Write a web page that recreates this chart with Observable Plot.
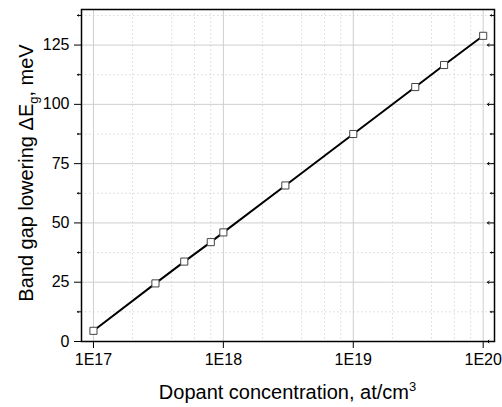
<!DOCTYPE html>
<html>
<head>
<meta charset="utf-8">
<script src="https://cdn.jsdelivr.net/npm/d3@7"></script>
<script src="https://cdn.jsdelivr.net/npm/@observablehq/plot@0.6"></script>
<style>
  html, body { margin: 0; padding: 0; background: #fff; }
  #chart { width: 502px; height: 407px; }
</style>
</head>
<body>
<div id="chart"></div>
<script>
// ---- data ----
const concentrations = [1e17, 3e17, 5e17, 8e17, 1e18, 3e18, 1e19, 3e19, 5e19, 1e20];
const bandGapLowering = [4.5, 24.5, 33.7, 41.9, 46.0, 65.8, 87.5, 107.3, 116.6, 128.9];

const xMajorTicks = [1e17, 1e18, 1e19, 1e20];
const xTickLabels = ["1E17", "1E18", "1E19", "1E20"];
const xMinorTicks = [2e17, 4e17, 6e17, 8e17, 2e18, 4e18, 6e18, 8e18, 2e19, 4e19, 6e19, 8e19];
const yMajorTicks = [0, 25, 50, 75, 100, 125];
const yMinorTicks = [12.5, 37.5, 62.5, 87.5, 112.5, 137.5];

const xTitle = "Dopant concentration, at/cm";
const xTitleSup = "3";
const yTitle = "Band gap lowering ΔE";
const yTitleSub = "g";
const yTitleEnd = ", meV";

const points = concentrations.map((c, i) => ({c, v: bandGapLowering[i]}));
const xLabelOf = new Map(xMajorTicks.map((t, i) => [t, xTickLabels[i]]));

const W = 502, H = 407;
const mL = 81, mR = 8, mT = 9, mB = 66;

const tickStroke = {stroke: "black", strokeWidth: 1};

const svg = Plot.plot({
  width: W,
  height: H,
  marginLeft: mL,
  marginRight: mR,
  marginTop: mT,
  marginBottom: mB,
  style: {fontFamily: "'Liberation Sans', Arial, sans-serif", fontSize: "16px", background: "#fff", color: "#000"},
  x: {type: "log", domain: [8.09e16, 1.222e20]},
  y: {domain: [0, 140]},
  marks: [
    // grid
    Plot.ruleX(xMinorTicks, {stroke: "#d8d8d8", strokeWidth: 1, strokeDasharray: "1.5,2.5"}),
    Plot.ruleY(yMinorTicks, {stroke: "#d8d8d8", strokeWidth: 1, strokeDasharray: "1.5,2.5"}),
    Plot.ruleX(xMajorTicks, {stroke: "#cfcfcf", strokeWidth: 1}),
    Plot.ruleY(yMajorTicks, {stroke: "#cfcfcf", strokeWidth: 1}),
    // bottom axis (outward ticks)
    Plot.axisX(xMajorTicks, {anchor: "bottom", tickSize: 7, tickPadding: 5, tickFormat: d => xLabelOf.get(d), label: null, fontSize: 16}),
    Plot.vectorY(xMinorTicks, {x: d => d, frameAnchor: "bottom", length: 4, rotate: 180, anchor: "start", ...tickStroke}),
    // left axis (outward ticks)
    Plot.axisY(yMajorTicks, {anchor: "left", tickSize: 7, tickPadding: 5, label: null, fontSize: 16}),
    Plot.vector(yMinorTicks, {y: d => d, frameAnchor: "left", length: 4, rotate: -90, anchor: "start", ...tickStroke}),
    // top axis (inward ticks)
    Plot.vectorY(xMajorTicks, {x: d => d, frameAnchor: "top", length: 7, rotate: 180, anchor: "start", ...tickStroke}),
    Plot.vectorY(xMinorTicks, {x: d => d, frameAnchor: "top", length: 4, rotate: 180, anchor: "start", ...tickStroke}),
    // right axis (inward ticks)
    Plot.vector(yMajorTicks, {y: d => d, frameAnchor: "right", length: 7, rotate: -90, anchor: "start", ...tickStroke}),
    Plot.vector(yMinorTicks, {y: d => d, frameAnchor: "right", length: 4, rotate: -90, anchor: "start", ...tickStroke}),
    // data
    Plot.line(points, {x: "c", y: "v", stroke: "black", strokeWidth: 2}),
    Plot.dot(points, {x: "c", y: "v", symbol: "square", r: 4, fill: "white", stroke: "#444", strokeWidth: 1}),
    Plot.frame({stroke: "black", strokeWidth: 1.5})
  ]
});

document.getElementById("chart").appendChild(svg);

// axis titles with super/subscripts
const s = d3.select(svg);
const font = "'Liberation Sans', Arial, sans-serif";
const xt = s.append("text")
  .attr("x", (mL + (W - mR)) / 2)
  .attr("y", 399)
  .attr("text-anchor", "middle")
  .attr("font-family", font)
  .attr("font-size", 20)
  .attr("fill", "#000");
xt.append("tspan").text(xTitle);
xt.append("tspan").attr("font-size", 13).attr("dy", -8).text(xTitleSup);

const yt = s.append("text")
  .attr("transform", `translate(33,${(mT + (H - mB)) / 2 - 2}) rotate(-90)`)
  .attr("text-anchor", "middle")
  .attr("font-family", font)
  .attr("font-size", 20)
  .attr("fill", "#000");
yt.append("tspan").text(yTitle);
yt.append("tspan").attr("font-size", 13).attr("dy", 5).text(yTitleSub);
yt.append("tspan").attr("dy", -5).text(yTitleEnd);
</script>
</body>
</html>
